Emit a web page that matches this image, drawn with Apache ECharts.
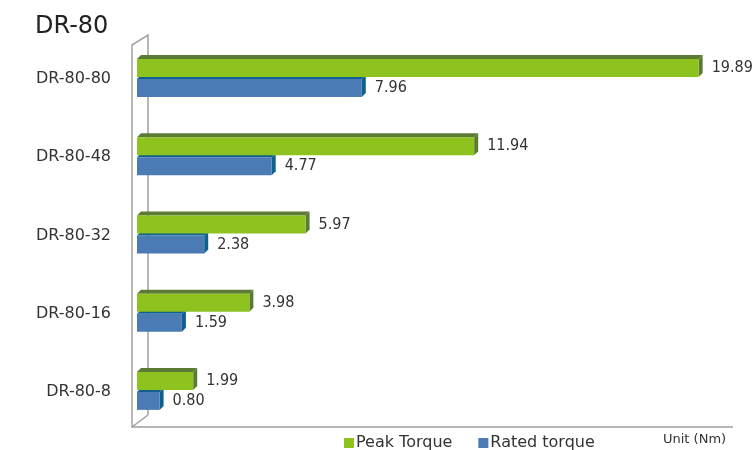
<!DOCTYPE html>
<html>
<head>
<meta charset="utf-8">
<script src="https://cdn.jsdelivr.net/npm/echarts@6/dist/echarts.min.js"></script>
<style>
  html, body { margin: 0; padding: 0; background: #fff; }
  #chart { width: 754px; height: 450px; }
</style>
</head>
<body>
<div id="chart"></div>
<script>
  // data
  var categories = ['DR-80-8', 'DR-80-16', 'DR-80-32', 'DR-80-48', 'DR-80-80'];
  var peakTorque = [1.99, 3.98, 5.97, 11.94, 19.89];
  var ratedTorque = [0.80, 1.59, 2.38, 4.77, 7.96];

  // grid box (px)
  var GL = 137, GT = 40, GR = 730, GB = 431;
  var H = 18, D = 4;

  function bar3d(offset, front, dark) {
    return function (params, api) {
      var v = api.value(0);
      var p0 = api.coord([0, api.value(1)]);
      var p1 = api.coord([v, api.value(1)]);
      var x0 = p0[0], x1 = p1[0];
      var y = p0[1] + offset - H / 2;
      return {
        type: 'group',
        children: [
          { type: 'polygon', shape: { points: [[x0, y], [x0 + D, y - D], [x1 + D, y - D], [x1, y]] }, style: { fill: dark } },
          { type: 'polygon', shape: { points: [[x1, y], [x1 + D, y - D], [x1 + D, y + H - D], [x1, y + H]] }, style: { fill: dark } },
          { type: 'rect', shape: { x: x0, y: y, width: x1 - x0, height: H }, style: { fill: front } },
          { type: 'text', style: { text: v.toFixed(2), x: x1 + D + 9, y: y + H / 2, verticalAlign: 'middle',
            fill: '#333', font: '16px "DejaVu Sans Condensed"' } }
        ]
      };
    };
  }

  var chart = echarts.init(document.getElementById('chart'));
  var wall = '#a0a0a0';
  chart.setOption({
    animation: false,
    title: {
      text: 'DR-80', left: 30, top: 10,
      textStyle: { fontFamily: 'DejaVu Sans', fontSize: 24, fontWeight: 'normal', color: '#222' }
    },
    legend: {
      left: 339, top: 430, itemWidth: 10, itemHeight: 10, itemGap: 26, icon: 'rect',
      textStyle: { fontFamily: 'DejaVu Sans', fontSize: 16, color: '#333', padding: [0, 0, 0, -3] },
      data: [
        { name: 'Peak Torque', itemStyle: { color: '#8DC21F' } },
        { name: 'Rated torque', itemStyle: { color: '#4A7BB5' } }
      ]
    },
    grid: { left: GL, top: GT, right: 754 - GR, bottom: 450 - GB },
    xAxis: { type: 'value', min: 0, max: 21, show: false },
    yAxis: {
      type: 'category', data: categories,
      axisLine: { show: false }, axisTick: { show: false },
      axisLabel: { margin: 26, fontFamily: 'DejaVu Sans', fontSize: 16, color: '#333' }
    },
    graphic: [
      { type: 'polyline', z: 0, shape: { points: [[GL + 11, GB - 16], [GL + 11, GT - 5], [GL - 5, GT + 5], [GL - 5, GB - 4], [GR + 3, GB - 4]] },
        style: { stroke: wall, lineWidth: 1.5, fill: null } },
      { type: 'line', z: 0, shape: { x1: GL - 5, y1: GB - 4, x2: GL + 11, y2: GB - 16 }, style: { stroke: wall, lineWidth: 1.5 } },
      { type: 'text', left: 663, top: 433, style: { text: 'Unit (Nm)', fill: '#333', font: '13px "DejaVu Sans"' } }
    ],
    series: [
      { name: 'Rated torque', type: 'custom', itemStyle: { color: '#4A7BB5' },
        renderItem: bar3d(9, '#4A7BB5', '#10608E'),
        encode: { x: 0, y: 1 },
        data: ratedTorque.map(function (v, i) { return [v, i]; }) },
      { name: 'Peak Torque', type: 'custom', itemStyle: { color: '#8DC21F' },
        renderItem: bar3d(-11, '#8DC21F', '#5B7B35'),
        encode: { x: 0, y: 1 },
        data: peakTorque.map(function (v, i) { return [v, i]; }) }
    ]
  });
</script>
</body>
</html>
